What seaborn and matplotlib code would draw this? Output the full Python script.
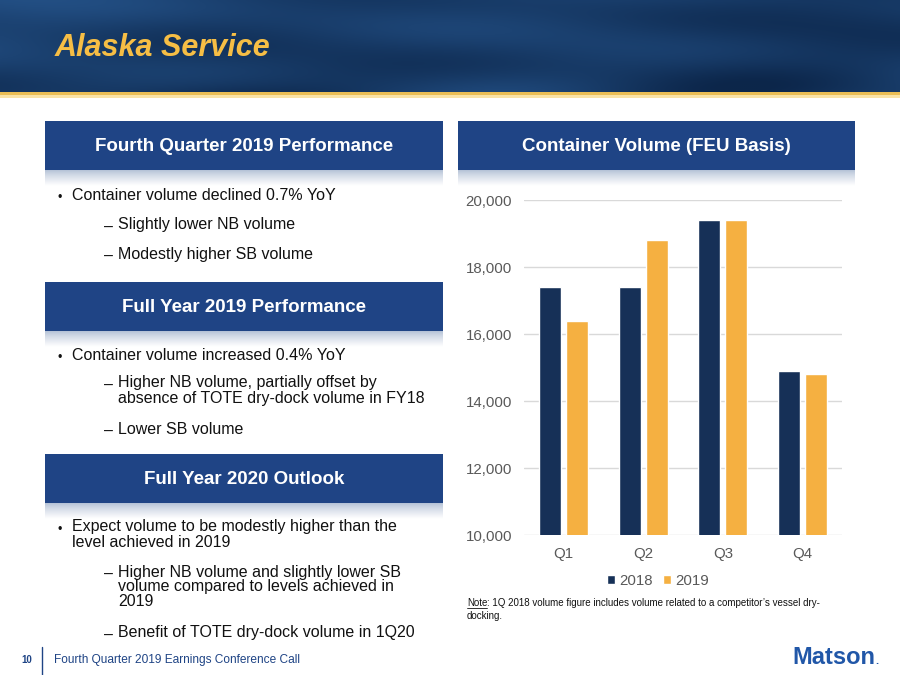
import numpy as np
import pandas as pd
import matplotlib
matplotlib.use("Agg")
import matplotlib.pyplot as plt
import seaborn as sns
from matplotlib.patches import Rectangle
from matplotlib.lines import Line2D

# ---------------- data ----------------
quarters = ["Q1", "Q2", "Q3", "Q4"]
years = ["2018", "2019"]
vol_2018 = [17400, 17400, 19400, 14900]
vol_2019 = [16400, 18800, 19400, 14800]
y_ticks = [10000, 12000, 14000, 16000, 18000, 20000]

df = pd.DataFrame({
    "Quarter": quarters * 2,
    "Year": [years[0]] * 4 + [years[1]] * 4,
    "Volume": vol_2018 + vol_2019,
})

NAVY = "#163057"
ORANGE = "#F5B041"
BOX = "#1F4485"
TXT = "#111111"
GRAY = "#595959"

sns.set_theme(style="white")
plt.rcParams["font.family"] = ["Liberation Sans", "DejaVu Sans"]

W, H = 900, 675
fig = plt.figure(figsize=(9, 6.75), dpi=100)
bg = fig.add_axes([0, 0, 1, 1], zorder=0)
bg.axis("off")

# ---------------- banner ----------------
xs = np.linspace(0, 1, 450)
ys = np.linspace(0, 1, 46)
X, Y = np.meshgrid(xs, ys)
t = (0.28 + 0.18 * np.sin(9 * X - 4 * Y + 1.0) * np.cos(5 * Y + 2 * X)
     + 0.25 * (1 - X) * (1 - Y) + 0.12 * np.sin(14 * X + 6 * Y) * Y)
t = np.clip(t, 0, 1)
c_dark = np.array([0x0C, 0x26, 0x4A]) / 255
c_light = np.array([0x2C, 0x60, 0x9C]) / 255
img = c_dark + (c_light - c_dark) * t[..., None]
bg.imshow(img, extent=(0, W, 92, 0), aspect="auto", interpolation="bilinear", zorder=1)
bg.add_patch(Rectangle((0, 91.5), W, 3.5, color="#EBBE55", lw=0, zorder=2))
bg.add_patch(Rectangle((0, 95), W, 2.5, color="#FAE3A6", lw=0, zorder=2))
bg.text(55, 47.5, "Alaska Service", fontsize=22, fontweight="bold", fontstyle="italic",
        color="#F6BE45", va="center", ha="left", zorder=3)

# ---------------- header boxes ----------------
shade = np.linspace(0, 1, 30)[:, None]
c_top = np.array([0xB4, 0xC1, 0xD6]) / 255
white = np.array([1.0, 1.0, 1.0])
shade_img = c_top + (white - c_top) * shade[..., None] ** 0.8
shade_img = np.repeat(shade_img, 2, axis=1)


def header(x0, y0, x1, y1, label):
    bg.imshow(shade_img, extent=(x0, x1, y1 + 16, y1), aspect="auto",
              interpolation="bilinear", zorder=1)
    bg.add_patch(Rectangle((x0, y0), x1 - x0, y1 - y0, color=BOX, lw=0, zorder=2))
    bg.text((x0 + x1) / 2, (y0 + y1) / 2 + 1, label, color="white", fontsize=13.5,
            fontweight="bold", ha="center", va="center", zorder=3)


header(45, 121, 443, 170, "Fourth Quarter 2019 Performance")
header(45, 282, 443, 331, "Full Year 2019 Performance")
header(45, 454, 443, 503, "Full Year 2020 Outlook")
header(458, 121, 855, 170, "Container Volume (FEU Basis)")

bg.set_xlim(0, W)
bg.set_ylim(H, 0)

# ---------------- bullet text ----------------
FS = 11.5


def bullet(y, lines, step=16):
    bg.text(58, y + 2.5, "•", fontsize=9, color=TXT, va="center", ha="left")
    for i, ln in enumerate(lines):
        bg.text(72, y + i * step, ln, fontsize=FS, color=TXT, va="center", ha="left")


def sub(y, lines, step=16):
    bg.text(104, y + 2, "–", fontsize=FS, color=TXT, va="center", ha="left")
    for i, ln in enumerate(lines):
        bg.text(118, y + i * step, ln, fontsize=FS, color=TXT, va="center", ha="left")


bullet(195, ["Container volume declined 0.7% YoY"])
sub(225, ["Slightly lower NB volume"])
sub(254, ["Modestly higher SB volume"])

bullet(355, ["Container volume increased 0.4% YoY"])
sub(383, ["Higher NB volume, partially offset by",
          "absence of TOTE dry-dock volume in FY18"])
sub(429, ["Lower SB volume"])

bullet(527, ["Expect volume to be modestly higher than the",
             "level achieved in 2019"], step=15.5)
sub(572, ["Higher NB volume and slightly lower SB",
          "volume compared to levels achieved in",
          "2019"], step=15)
sub(633, ["Benefit of TOTE dry-dock volume in 1Q20"])

# ---------------- footer ----------------
bg.text(27, 660, "10", fontsize=7, fontweight="bold", color=BOX, ha="center", va="center")
bg.add_line(Line2D([41.5, 41.5], [647, 675], color=BOX, lw=1))
bg.text(54, 660, "Fourth Quarter 2019 Earnings Conference Call", fontsize=8.6,
        color=BOX, ha="left", va="center")
bg.text(792, 663.5, "Matson", fontsize=17, fontweight="bold", color="#2157A8",
        ha="left", va="baseline")
bg.text(875.5, 663.5, ".", fontsize=8, fontweight="bold", color="#2157A8",
        ha="left", va="baseline")

# ---------------- chart ----------------
ax = fig.add_axes([524 / W, 1 - 535.3 / H, 318 / W, 335.3 / H], zorder=2)
ax.patch.set_alpha(0)
sns.barplot(data=df, x="Quarter", y="Volume", hue="Year", palette=[NAVY, ORANGE],
            width=0.68, gap=0.18, saturation=1, ax=ax, zorder=3)
ax.set_ylim(10000, 20000)
ax.set_xlim(-0.5, 3.5)
ax.set_yticks(y_ticks)
ax.set_yticklabels([f"{v:,}" for v in y_ticks])
ax.yaxis.grid(True, color="#D9D9D9", lw=1)
ax.set_axisbelow(True)
for s in ax.spines.values():
    s.set_visible(False)
ax.tick_params(axis="both", length=0, labelsize=10.8, colors=GRAY, pad=8.5)
ax.set_xlabel("")
ax.set_ylabel("")

handles, labels = ax.get_legend_handles_labels()
ax.get_legend().remove()
fig.legend(handles, labels, loc="center", bbox_to_anchor=(658 / W, 1 - 581 / H),
           ncol=2, frameon=False, handlelength=0.55, handleheight=0.55,
           handletextpad=0.27, columnspacing=0.65, fontsize=10.8, labelcolor=GRAY,
           borderpad=0)

# ---------------- note ----------------
fig.canvas.draw()
r = fig.canvas.get_renderer()
nt = bg.text(467, 606.5, "Note", fontsize=7, color=TXT, ha="left", va="baseline")
bb = nt.get_window_extent(renderer=r)
inv = bg.transData.inverted()
(x0n, _), (x1n, _) = inv.transform([(bb.x0, bb.y0), (bb.x1, bb.y0)])
bg.add_line(Line2D([x0n, x1n], [608.3, 608.3], color=TXT, lw=0.6))
bg.text(x1n, 606.5, ": 1Q 2018 volume figure includes volume related to a competitor\u2019s vessel dry-",
        fontsize=7, color=TXT, ha="left", va="baseline")
bg.text(467, 619, "docking.", fontsize=7, color=TXT, ha="left", va="baseline")

fig.savefig("out.png", dpi=100)
